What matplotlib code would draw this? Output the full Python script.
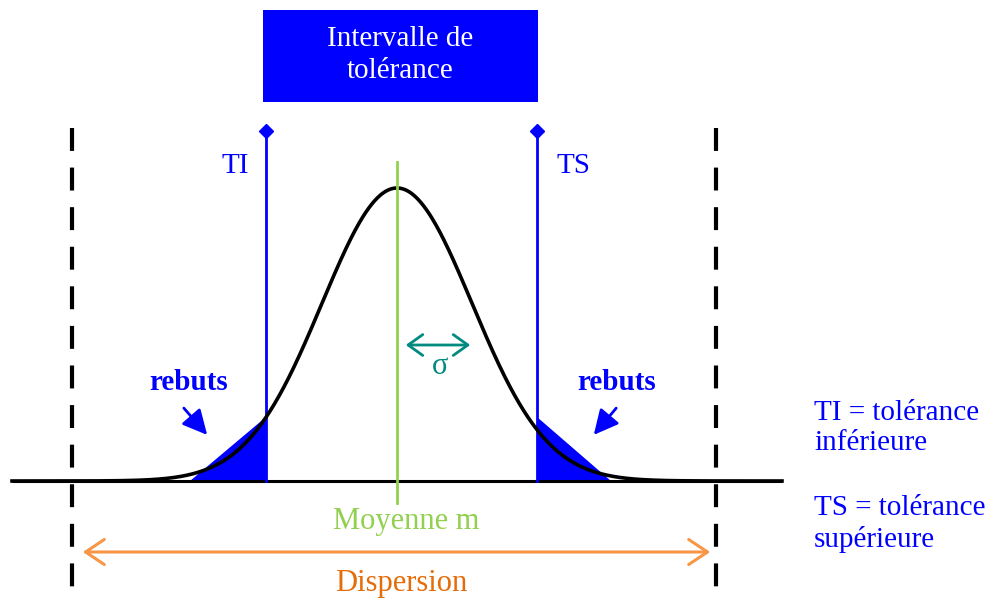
import numpy as np
import matplotlib
matplotlib.use("Agg")
import matplotlib.pyplot as plt
from matplotlib.patches import Rectangle, Polygon, FancyArrowPatch

# ---- data (diagram units = reference pixels) ----
mean = 397
sigma = 75
peak = 293
baseline = 481
ti = 266
ts = 537
disp_left = 72
disp_right = 716
curve_range = [12, 782]
left_tail = [(190, 481), (266, 417), (266, 481)]
right_tail = [(537, 417), (537, 481), (611, 481)]

labels_right = ["TI = tolérance\ninférieure", "TS = tolérance\nsupérieure"]
box_label = "Intervalle de\ntolérance"

BLUE = "#0000FF"
GREEN = "#92D050"
ORANGE_ARROW = "#F79646"
ORANGE_TEXT = "#E46C0A"
TEAL = "#008A80"

plt.rcParams['font.family'] = ['Liberation Serif', 'DejaVu Serif']

fig = plt.figure(figsize=(9.97, 6.08), dpi=100)
ax = fig.add_axes([0, 0, 1, 1])
ax.set_xlim(0, 997)
ax.set_ylim(608, 0)
ax.axis('off')

# baseline
ax.plot(curve_range, [baseline, baseline], color='black', lw=2.2, solid_capstyle='butt', zorder=3)

# tails
ax.add_patch(Polygon(left_tail, closed=True, facecolor=BLUE, edgecolor='none', zorder=2))
ax.add_patch(Polygon(right_tail, closed=True, facecolor=BLUE, edgecolor='none', zorder=2))

# normal curve
x = np.linspace(curve_range[0], curve_range[1], 800)
y = baseline - peak * np.exp(-(x - mean) ** 2 / (2 * sigma ** 2))
ax.plot(x, y, color='black', lw=2.6, zorder=4)

# dashed dispersion limits
for xd in (disp_left, disp_right):
    ax.plot([xd, xd], [128, 596], color='black', lw=3, dashes=(5.5, 4), zorder=3)

# tolerance lines
for xt in (ti, ts):
    ax.plot([xt, xt], [131, baseline], color=BLUE, lw=2, zorder=3)
    ax.plot([xt], [131], marker='D', color=BLUE, markersize=7, zorder=5)
ax.text(235, 166, "TI", color=BLUE, fontsize=21, ha='center', va='center')
ax.text(573, 166, "TS", color=BLUE, fontsize=21, ha='center', va='center')

# mean line
ax.plot([mean, mean], [162, 503], color=GREEN, lw=2, zorder=5)
ax.text(406, 522, "Moyenne m", color=GREEN, fontsize=22, ha='center', va='center')

# sigma arrow
ax.add_patch(FancyArrowPatch((403, 345), (473, 345), arrowstyle='<->,head_length=7,head_width=5',
                             color=TEAL, lw=2, mutation_scale=1.5, zorder=6))
ax.text(440, 367, "σ", color=TEAL, fontsize=22, ha='center', va='center')

# rebuts
ax.text(189, 382, "rebuts", color=BLUE, fontsize=21, fontweight='bold', ha='center', va='center')
ax.text(617, 382, "rebuts", color=BLUE, fontsize=21, fontweight='bold', ha='center', va='center')
ax.add_patch(FancyArrowPatch((182, 406), (209, 437), arrowstyle='-|>,head_length=10,head_width=5',
                             color=BLUE, lw=2, mutation_scale=1.5, zorder=6))
ax.add_patch(FancyArrowPatch((618, 406), (592, 437), arrowstyle='-|>,head_length=10,head_width=5',
                             color=BLUE, lw=2, mutation_scale=1.5, zorder=6))

# dispersion arrow
ax.add_patch(FancyArrowPatch((80, 552), (713, 552), arrowstyle='<->,head_length=9,head_width=6',
                             color=ORANGE_ARROW, lw=2.2, mutation_scale=1.5, zorder=6))
ax.text(401, 583, "Dispersion", color=ORANGE_TEXT, fontsize=22, ha='center', va='center')

# tolerance box
ax.add_patch(Rectangle((263, 10), 275, 92, facecolor=BLUE, edgecolor='none', zorder=2))
ax.text(400, 55, box_label, color='white', fontsize=21, ha='center', va='center', linespacing=1.3)

# right legend texts
ax.text(814, 428, labels_right[0], color=BLUE, fontsize=21, ha='left', va='center', linespacing=1.22)
ax.text(814, 524, labels_right[1], color=BLUE, fontsize=21, ha='left', va='center', linespacing=1.22)

fig.savefig("out.png", dpi=100)
